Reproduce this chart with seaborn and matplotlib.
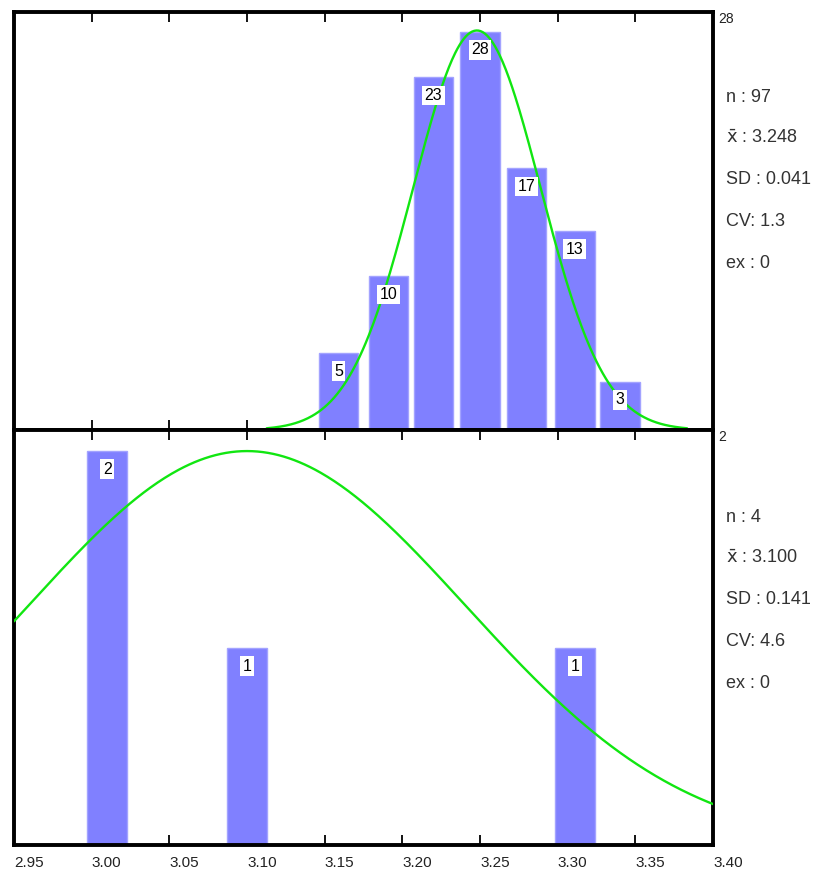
import numpy as np
import pandas as pd
import matplotlib
matplotlib.use("Agg")
import matplotlib.pyplot as plt
import seaborn as sns

# ---- data ----
top_centers = [3.159, 3.191, 3.220, 3.250, 3.280, 3.311, 3.340]
top_heights = [5.4, 10.8, 24.8, 28.0, 18.4, 14.0, 3.4]      # drawn bar heights
top_counts = [5, 10, 23, 28, 17, 13, 3]                     # printed labels
top_stats = {"n": "97", "mean": "3.248", "SD": "0.041", "CV": "1.3", "ex": "0"}
top_mean, top_sd, top_peak = 3.248, 0.041, 28.1

bot_centers = [3.010, 3.100, 3.311]
bot_heights = [2, 1, 1]
bot_counts = [2, 1, 1]
bot_stats = {"n": "4", "mean": "3.100", "SD": "0.141", "CV": "4.6", "ex": "0"}
bot_mean, bot_sd, bot_peak = 3.100, 0.141, 2.0

xticks = [2.95, 3.00, 3.05, 3.10, 3.15, 3.20, 3.25, 3.30, 3.35, 3.40]

BAR = "#8080ff"
BAR_EDGE = "#a3a3ff"
GREEN = "#11e611"
FONT = ["Liberation Sans", "DejaVu Sans"]

sns.set_theme(style="white")
plt.rcParams["font.family"] = FONT

W, H = 819, 883
fig = plt.figure(figsize=(W / 100, H / 100), dpi=100)
left, right = 14, 713
ax1 = fig.add_axes([left / W, 1 - 430 / H, (right - left) / W, (430 - 12) / H])
ax2 = fig.add_axes([left / W, 1 - 845 / H, (right - left) / W, (845 - 430) / H])


def panel(ax, centers, heights, counts, bar_frac, mean, sd, peak, xr, ymax):
    df = pd.DataFrame({"x": centers, "h": heights})
    sns.barplot(data=df, x="x", y="h", native_scale=True, color=BAR,
                saturation=1, width=bar_frac, edgecolor=BAR_EDGE,
                linewidth=1, errorbar=None, ax=ax, zorder=2)
    xs = np.linspace(xr[0], xr[1], 400)
    ys = peak * np.exp(-0.5 * ((xs - mean) / sd) ** 2)
    sns.lineplot(x=xs, y=ys, color=GREEN, linewidth=1.7, ax=ax, zorder=3)
    for c, h, n in zip(centers, heights, counts):
        ax.annotate(str(n), (c, h), xytext=(0, -13), textcoords="offset points",
                    ha="center", va="center", fontsize=11.5, color="black",
                    zorder=5,
                    bbox=dict(boxstyle="square,pad=0.15", fc="white", ec="none"))
    ax.set_xlim(2.95, 3.40)
    ax.set_ylim(0, ymax)
    ax.set_xticks(xticks)
    ax.set_yticks([])
    ax.set_xlabel("")
    ax.set_ylabel("")
    ax.set_axisbelow(True)
    ax.tick_params(axis="x", which="both", direction="in", length=7, width=1.3,
                   color="black", top=True, bottom=True)
    for s in ax.spines.values():
        s.set_visible(True)
        s.set_color("black")
        s.set_linewidth(2.8)
    ax.text(1.008, 1.0, str(max(counts)), transform=ax.transAxes,
            ha="left", va="top", fontsize=10, color="#222222")


panel(ax1, top_centers, top_heights, top_counts, 0.88, top_mean, top_sd,
      top_peak, (top_mean - 3.3 * top_sd, top_mean + 3.3 * top_sd), 29.4)
panel(ax2, bot_centers, bot_heights, bot_counts, 0.285, bot_mean, bot_sd,
      bot_peak, (2.95, 3.40), 2.107)

ax1.tick_params(axis="x", labelbottom=False)
ax2.set_xticklabels([f"{t:.2f}" for t in xticks], fontsize=11, color="#222222")
for lbl in ax2.get_xticklabels():
    lbl.set_horizontalalignment("left")
ax2.tick_params(axis="x", pad=8)


def stats(st, y0):
    lines = [f"n : {st['n']}", r"$\bar{\mathrm{x}}$ : " + st["mean"],
             f"SD : {st['SD']}", f"CV: {st['CV']}", f"ex : {st['ex']}"]
    for i, t in enumerate(lines):
        fig.text(726 / W, 1 - (y0 + i * 41.5) / H, t, ha="left", va="center",
                 fontsize=13, color="#333333")


stats(top_stats, 97)
stats(bot_stats, 517)

fig.savefig("out.png", dpi=100)
